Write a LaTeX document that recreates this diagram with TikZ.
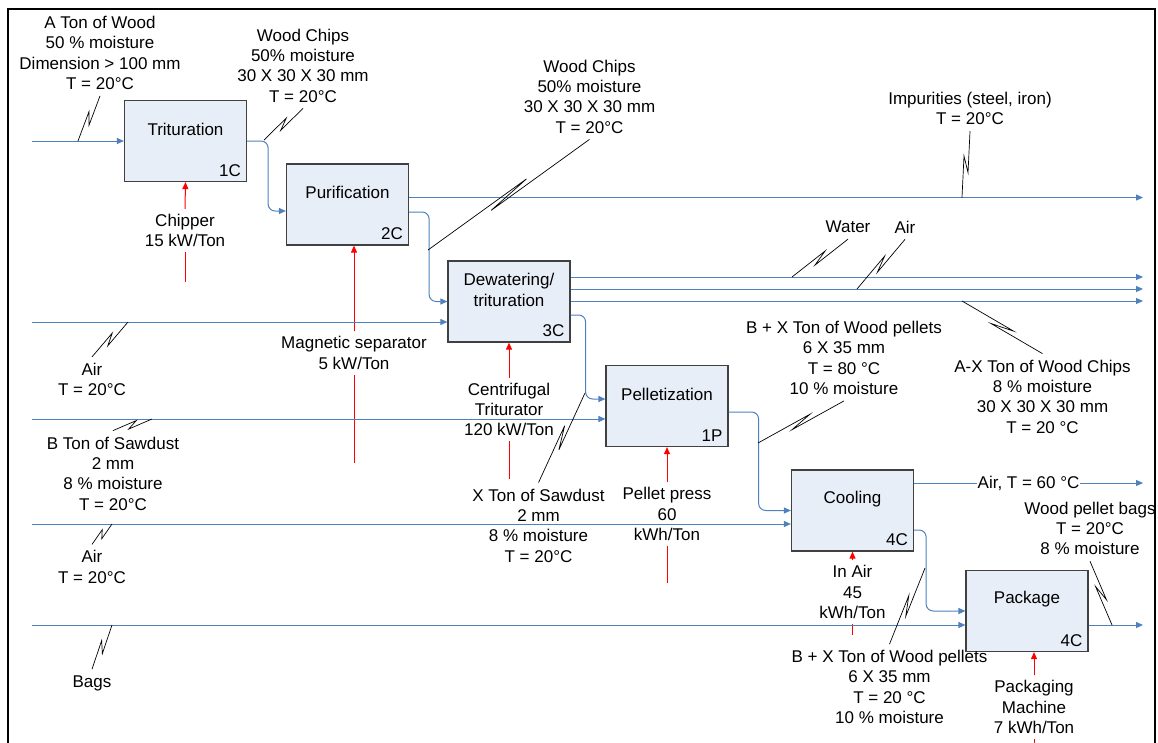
\documentclass[tikz,border=0pt]{standalone}
\usepackage{fontspec}
\setmainfont{Liberation Sans}
\usetikzlibrary{calc,arrows.meta,positioning}
\definecolor{flowblue}{HTML}{4F81BD}
\definecolor{boxfill}{HTML}{E8EEF8}
\definecolor{boxline}{HTML}{404040}
\newcommand{\zig}[2]{\draw[callout] (#1) -- ($(#1)!0.62!(#2)!3pt!90:(#2)$) -- ($(#1)!0.38!(#2)!3pt!-90:(#2)$) -- (#2);}
\newcommand{\stage}[5]{\node[stagebox] (#1) at (#2,#3) {}; \node[boxtitle] at ($(#1.north)+(0,29.5)$) {#4}; \node[boxcode] at ($(#1.south east)+(-6,-6)$) {#5};}
\tikzset{
  stagebox/.style={draw=boxline, fill=boxfill, line width=1.2pt, minimum width=122pt, minimum height=81pt, inner sep=0pt},
  boxtitle/.style={font=\fontsize{17}{20.3}\selectfont, align=center, inner sep=0pt},
  boxcode/.style={font=\fontsize{17}{20.3}\selectfont, anchor=base east, inner sep=0pt},
  lbl/.style={font=\fontsize{17}{20.3}\selectfont, align=center, inner xsep=2pt, inner ysep=6pt},
  powerlbl/.style={lbl, inner ysep=5pt},
  flow/.style={draw=flowblue, line width=1pt, -{Triangle[length=7pt,width=6pt]}},
  power/.style={draw=red, line width=1pt},
  powerin/.style={power, -{Triangle[length=7pt,width=6pt]}},
  callout/.style={draw=black, line width=0.7pt}
}
\begin{document}
\begin{tikzpicture}[x=1pt, y=-1pt]
    \useasboundingbox (0,0) rectangle (1158,742);
    \draw[line width=2pt] (8,760) -- (8,9) -- (1155,9) -- (1155,760);
    % process stages
    \stage{trit}{185.5}{141}{Trituration}{1C}
    \stage{puri}{347.5}{204.5}{Purification}{2C}
    \stage{dew}{509}{301.5}{Dewatering/\\trituration}{3C}
    \stage{pel}{667}{406}{Pelletization}{1P}
    \stage{cool}{852.5}{510.5}{Cooling}{4C}
    \stage{pack}{1027}{611}{Package}{4C}
    % free ends
    \coordinate (inWood) at (32,141);
    \coordinate (inAir1) at (32,322);
    \coordinate (inSaw) at (32,419);
    \coordinate (inAir2) at (32,524);
    \coordinate (inBags) at (32,625);
    \coordinate (outImp) at (1143,197.5);
    \coordinate (outWater) at (1143,277);
    \coordinate (outAir) at (1143,289);
    \coordinate (outChips) at (1143,301);
    \coordinate (outHot) at (1143,483);
    \coordinate (outBags) at (1143,625);
    % energy inputs
    \node[powerlbl] (chipLbl) at (185,230.5) {Chipper\\15 kW/Ton};
    \node[powerlbl] (magLbl) at (354,353) {Magnetic separator\\5 kW/Ton};
    \node[powerlbl] (cenLbl) at (509,409.5) {Centrifugal\\Triturator\\120 kW/Ton};
    \node[powerlbl] (pressLbl) at (667,514) {Pellet press\\60\\kWh/Ton};
    \node[powerlbl] (inAirLbl) at (852.5,592) {In Air\\45\\kWh/Ton};
    \node[powerlbl] (packLbl) at (1034,707) {Packaging\\Machine\\7 kWh/Ton};
    \coordinate (chipBot) at (185,282);
    \coordinate (magBot) at (354,463);
    \coordinate (cenBot) at (509,479);
    \coordinate (pressBot) at (667,583);
    \coordinate (inAirBot) at (852.5,635);
    \coordinate (packBot) at (1034,750);
    \draw[power] (chipBot) -- (chipLbl.south);
    \draw[powerin] (chipLbl.north) -- (trit.south);
    \draw[power] (magBot) -- (magLbl.south);
    \draw[powerin] (magLbl.north) -- (magLbl.north |- puri.south);
    \draw[power] (cenBot) -- (cenLbl.south);
    \draw[powerin] (cenLbl.north) -- (dew.south);
    \draw[power] (pressBot) -- (pressLbl.south);
    \draw[powerin] (pressLbl.north) -- (pel.south);
    \draw[power] (inAirBot) -- (inAirLbl.south);
    \draw[powerin] (inAirLbl.north) -- (cool.south);
    \draw[power] (packBot) -- (packLbl.south);
    \draw[powerin] (packLbl.north) -- (packLbl.north |- pack.south);
    % material flows
    \draw[flow] (inWood) -- (inWood -| trit.west);
    \draw[flow, rounded corners=7pt] (trit.east) -- ++(21,0) |- ($(puri.west)+(0,6.5)$);
    \draw[flow] (outImp -| puri.east) -- (outImp);
    \draw[flow, rounded corners=7pt] ($(puri.east)+(0,7.5)$) -- ++(20,0) |- (dew.west);
    \draw[flow] (inAir1) -- (inAir1 -| dew.west);
    \draw[flow] (outWater -| dew.east) -- (outWater);
    \draw[flow] (outAir -| dew.east) -- (outAir);
    \draw[flow] (outChips -| dew.east) -- (outChips);
    \draw[flow, rounded corners=7pt] ($(dew.east)+(0,13.5)$) -- ++(15,0) |- ($(pel.west)+(0,-7)$);
    \draw[flow] (inSaw) -- (inSaw -| pel.west);
    \draw[flow, rounded corners=7pt] ($(pel.east)+(0,6)$) -- ++(30,0) |- (cool.west);
    \draw[flow] (inAir2) -- (inAir2 -| cool.west);
    \draw[flow] (outHot -| cool.east) -- node[lbl, fill=white, inner sep=1pt] (hotLbl) {Air, T = 60 °C} (outHot);
    \draw[flow, rounded corners=7pt] ($(cool.east)+(0,19.5)$) -- ++(12,0) |- (pack.west);
    \draw[flow] (inBags) -- (inBags -| pack.west);
    \draw[flow] (outBags -| pack.east) -- (outBags);
    % stream labels
    \node[lbl] (lWood) at (100,53) {A Ton of Wood\\50 \% moisture\\Dimension > 100 mm\\T = 20°C};
    \node[lbl] (lChips1) at (303,65.5) {Wood Chips\\50\% moisture\\30 X 30 X 30 mm\\T = 20°C};
    \node[lbl] (lChips2) at (589.5,96.5) {Wood Chips\\50\% moisture\\30 X 30 X 30 mm\\T = 20°C};
    \node[lbl] (lImp) at (970,108.5) {Impurities (steel, iron)\\T = 20°C};
    \node[lbl] (lWater) at (848,227) {Water};
    \node[lbl] (lAirOut) at (905,227) {Air};
    \node[lbl] (lChipsOut) at (1042.5,396.5) {A-X Ton of Wood Chips\\8 \% moisture\\30 X 30 X 30 mm\\T = 20 °C};
    \node[lbl] (lAir1) at (92,379.5) {Air\\T = 20°C};
    \node[lbl] (lSaw) at (113,473.5) {B Ton of Sawdust\\2 mm\\8 \% moisture\\T = 20°C};
    \node[lbl] (lAir2) at (92,567) {Air\\T = 20°C};
    \node[lbl] (lBags) at (92,683) {Bags};
    \node[lbl] (lSaw2) at (538.5,525.5) {X Ton of Sawdust\\2 mm\\8 \% moisture\\T = 20°C};
    \node[lbl] (lPel1) at (844,358) {B + X Ton of Wood pellets\\6 X 35 mm\\T = 80 °C\\10 \% moisture};
    \node[lbl] (lPel2) at (889.5,687) {B + X Ton of Wood pellets\\6 X 35 mm\\T = 20 °C\\10 \% moisture};
    \node[lbl] (lBagsOut) at (1090,528.5) {Wood pellet bags\\T = 20°C\\8 \% moisture};
    % callouts
    \coordinate (zWood) at (78,141);
    \coordinate (zChips1) at (264,140);
    \coordinate (zChips2) at (428,250);
    \coordinate (zImp) at (962,197.5);
    \coordinate (zWater) at (792,277);
    \coordinate (zAirOut) at (857,289);
    \coordinate (zChipsOut) at (962,301);
    \coordinate (zAir1) at (128,322);
    \coordinate (zSaw) at (152,419);
    \coordinate (zAir2) at (112,524);
    \coordinate (zBags) at (112,625);
    \coordinate (zSaw2) at (585,393);
    \coordinate (zPel1) at (758,443);
    \coordinate (zPel2) at (925,568);
    \coordinate (zBagsOut) at (1112,625);
    \zig{zWood}{lWood.south}
    \zig{zChips1}{lChips1.south}
    \zig{zChips2}{lChips2.south}
    \zig{zImp}{lImp.south}
    \zig{zWater}{lWater.south}
    \zig{zAirOut}{lAirOut.south}
    \zig{zChipsOut}{lChipsOut.north}
    \zig{zAir1}{lAir1.north}
    \zig{zSaw}{lSaw.north}
    \zig{zAir2}{lAir2.north}
    \zig{zBags}{lBags.north}
    \zig{zSaw2}{lSaw2.north}
    \zig{zPel1}{lPel1.south}
    \zig{zPel2}{lPel2.north}
    \zig{zBagsOut}{lBagsOut.south}
\end{tikzpicture}
\end{document}
